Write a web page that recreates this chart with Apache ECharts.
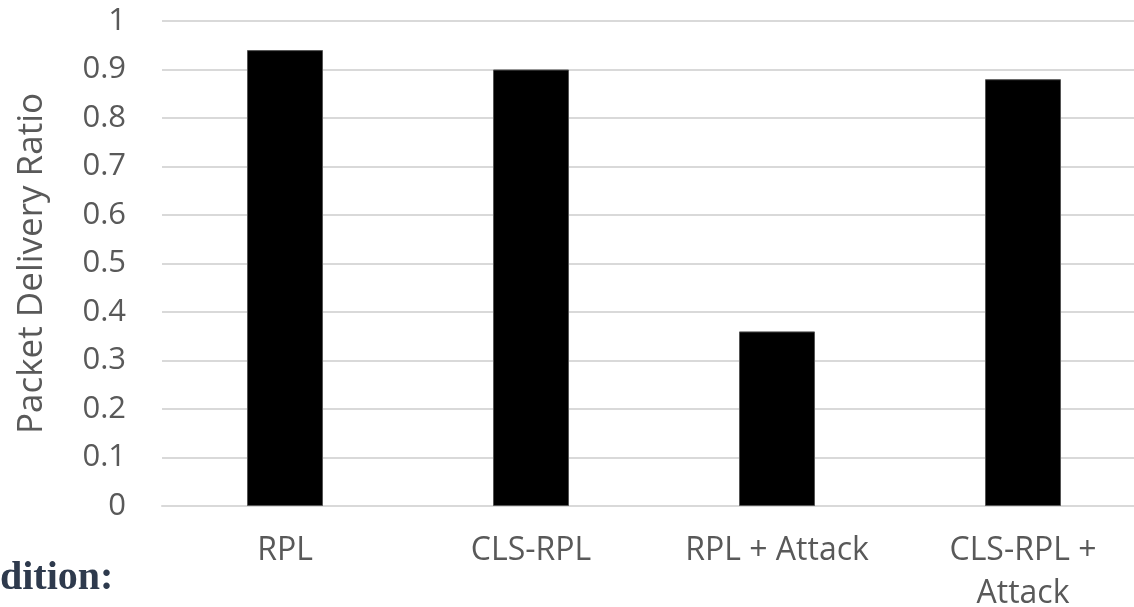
<!DOCTYPE html>
<html>
<head>
<meta charset="utf-8">
<script src="https://cdn.jsdelivr.net/npm/echarts@6/dist/echarts.min.js"></script>
<style>
  html, body { margin: 0; padding: 0; background: #ffffff; }
  #chart { width: 1134px; height: 607px; }
</style>
</head>
<body>
<div id="chart"></div>
<script>
// Protocol scenarios along the x axis
const categories = ['RPL', 'CLS-RPL', 'RPL + Attack', 'CLS-RPL +\nAttack'];
// Packet delivery ratio for each scenario
const deliveryRatio = [0.94, 0.90, 0.36, 0.88];
// Y axis range and step
const yMin = 0;
const yMax = 1;
const yStep = 0.1;

const labelFont = '"Open Sans", Lato, "Noto Sans", sans-serif';
const chart = echarts.init(document.getElementById('chart'), null, { renderer: 'canvas' });

chart.setOption({
  animation: false,
  backgroundColor: '#ffffff',
  grid: {
    left: 162, right: -12, top: 21, bottom: 101,
    containLabel: false,
    outerBoundsMode: 'none'
  },
  xAxis: {
    type: 'category',
    data: categories,
    axisLine: { show: true, lineStyle: { color: '#d9d9d9', width: 2 } },
    axisTick: { show: false },
    axisLabel: {
      interval: 0,
      color: '#595959',
      fontFamily: labelFont,
      fontSize: 32,
      lineHeight: 43,
      margin: 23
    }
  },
  yAxis: {
    type: 'value',
    min: yMin,
    max: yMax,
    interval: yStep,
    name: 'Packet Delivery Ratio',
    nameLocation: 'middle',
    nameGap: 112,
    nameTextStyle: { color: '#595959', fontFamily: labelFont, fontSize: 35 },
    axisLine: { show: false },
    axisTick: { show: false },
    splitLine: { show: true, lineStyle: { color: '#d9d9d9', width: 2 } },
    axisLabel: {
      color: '#595959',
      fontFamily: labelFont,
      fontSize: 31,
      margin: 36,
      formatter: v => String(Math.round(v * 10) / 10)
    }
  },
  series: [{
    type: 'bar',
    data: deliveryRatio,
    barWidth: 76,
    itemStyle: { color: '#000000', borderColor: '#555555', borderWidth: 1 }
  }],
  graphic: [{
    type: 'text',
    left: 0,
    top: 559,
    style: {
      text: 'dition:',
      fill: '#2e3a4d',
      font: 'bold 40px "Liberation Serif", "DejaVu Serif", serif'
    }
  }]
});
</script>
</body>
</html>
